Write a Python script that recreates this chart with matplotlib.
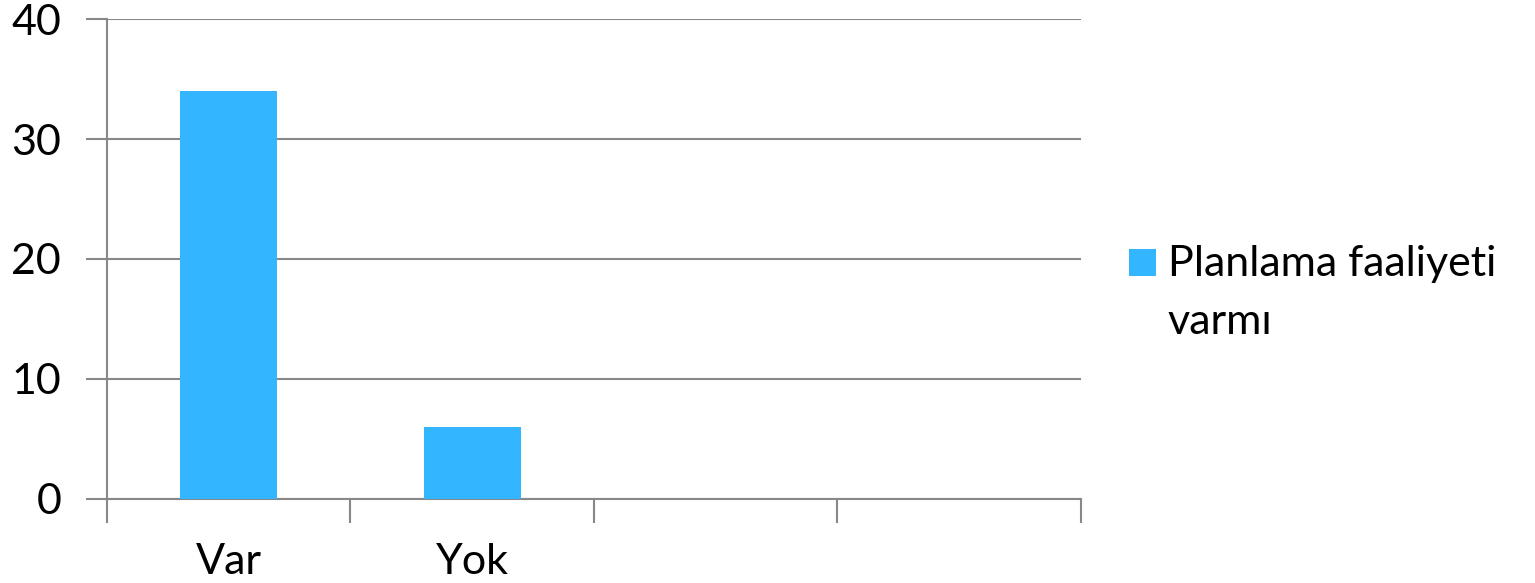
import numpy as np
import matplotlib
matplotlib.use("Agg")
import matplotlib.pyplot as plt
from matplotlib.patches import Rectangle

plt.rcParams['font.family'] = ['Lato', 'DejaVu Sans']

# data
categories = ["Var", "Yok", "", ""]
values = [34, 6, 0, 0]
series_name = "Planlama faaliyeti\nvarmı"
bar_color = "#33B5FF"
grid_color = "#888888"

fig = plt.figure(figsize=(15.35, 5.83), dpi=100)
ax = fig.add_axes([0.0697, 0.1441, 0.6345, 0.8233])

x = np.arange(len(categories))
ax.bar(x[:2], values[:2], width=0.4, color=bar_color, zorder=3)

ax.set_xlim(-0.5, len(categories) - 0.5)
ax.set_ylim(0, 40)
ax.set_yticks([0, 10, 20, 30, 40])
ax.yaxis.grid(True, color=grid_color, linewidth=1.5, zorder=0)

# category labels in the middle, ticks on the boundaries
ax.set_xticks(x)
ax.set_xticklabels(categories)
ax.tick_params(axis='x', length=0, pad=32, labelsize=31)
ax.set_xticks(np.arange(-0.5, len(categories)), minor=True)
ax.tick_params(axis='x', which='minor', length=17, width=1.5, color=grid_color)
ax.tick_params(axis='y', length=15, width=1.5, color=grid_color, labelsize=31, pad=18)

for side in ["top", "right"]:
    ax.spines[side].set_visible(False)
ax.spines["left"].set_color(grid_color)
ax.spines["left"].set_linewidth(1.5)
ax.spines["bottom"].set_color(grid_color)
ax.spines["bottom"].set_linewidth(1.5)

# legend: square key next to the first line of the wrapped label
W, H = 1535, 583
fig.patches.append(Rectangle((1129 / W, 1 - 276 / H), 27 / W, 27 / H,
                             transform=fig.transFigure, facecolor=bar_color,
                             edgecolor="none"))
fig.text(1168 / W, 1 - 245 / H, series_name, ha="left", va="top",
         fontsize=31, linespacing=1.65)

fig.savefig("out.png", dpi=100)
